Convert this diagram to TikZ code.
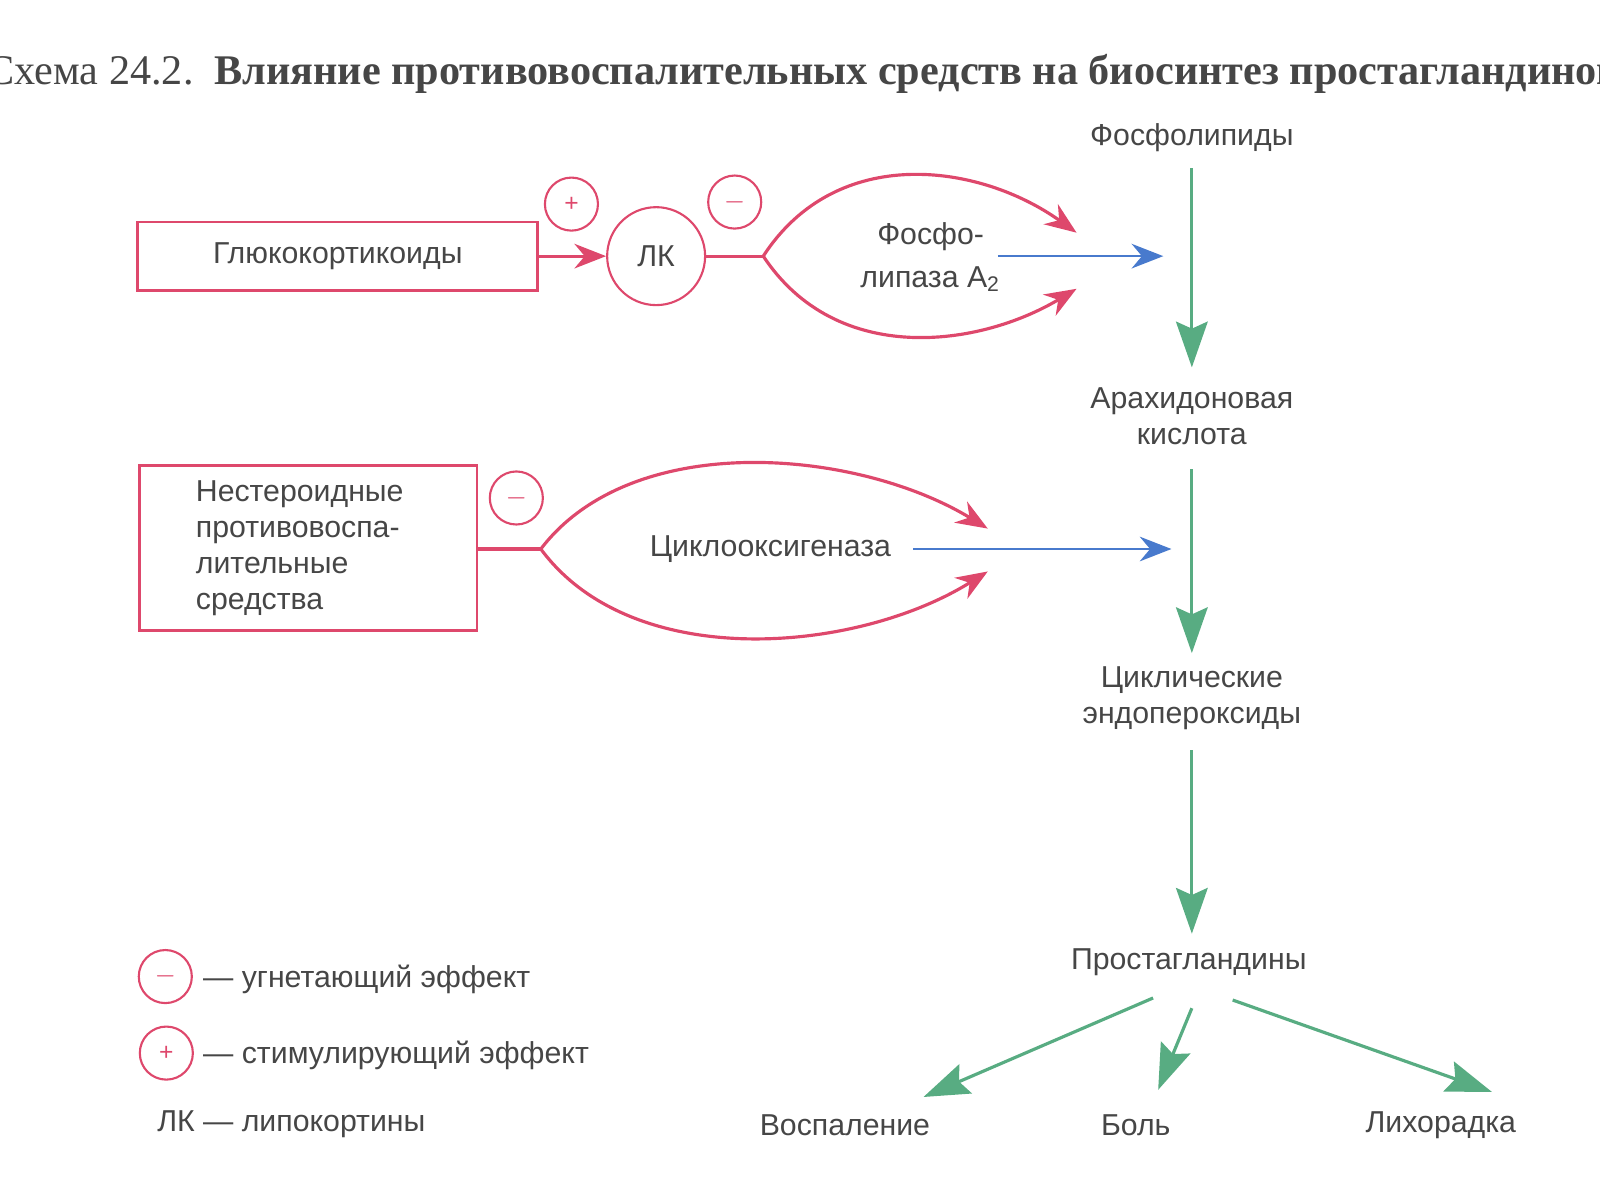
\documentclass[tikz,border=0pt]{standalone}
\usepackage{fontspec}
\setmainfont{Liberation Sans}
\newfontfamily\titlefont{Liberation Serif}
\usetikzlibrary{arrows.meta}
\definecolor{pinkc}{RGB}{222,72,108}
\definecolor{greenc}{RGB}{88,172,130}
\definecolor{bluec}{RGB}{72,122,205}
\definecolor{textc}{RGB}{70,70,70}

\begin{document}
\begin{tikzpicture}[x=0.0102cm,y=-0.0102cm,
    lbl/.style={text=textc, font=\fontsize{8.6}{10.2}\selectfont, align=center, inner sep=1pt},
    sign/.style={draw=pinkc, line width=0.6pt, circle, minimum size=52*0.0102cm, inner sep=0pt, text=pinkc, font=\scriptsize},
    garrow/.style={draw=greenc, line width=0.9pt, -{Stealth[length=13pt,width=9pt,inset=2pt]}},
    parrow/.style={draw=pinkc, line width=0.9pt, -{Stealth[length=9pt,width=7pt]}},
    barrow/.style={draw=bluec, line width=0.7pt, -{Stealth[length=9pt,width=7pt]}}]
    \useasboundingbox (0,0) rectangle (1568,1176);
    % Title
    \node[anchor=west, text=textc, font=\titlefont\fontsize{12}{14}\selectfont, inner sep=0pt] (title) at (-14,72)
        {Схема 24.2.\ \ \textbf{Влияние противовоспалительных средств на биосинтез простагландинов}};

    % Main chain
    \node[lbl] (phos) at (1168,135) {Фосфолипиды};
    \node[lbl] (arach) at (1168,408) {Арахидоновая\\кислота};
    \node[lbl] (endo) at (1168,684) {Циклические\\эндопероксиды};
    \node[lbl] (prost) at (1165,943) {Простагландины};
    \node[lbl] (infl) at (828,1103) {Воспаление};
    \node[lbl] (pain) at (1113,1103) {Боль};
    \node[lbl] (fever) at (1412,1103) {Лихорадка};
    \coordinate (p1) at (1168,165); \coordinate (p2) at (1168,360);
    \coordinate (a1) at (1168,460); \coordinate (a2) at (1168,640);
    \coordinate (e1) at (1168,735); \coordinate (e2) at (1168,915);
    \draw[garrow] (p1) -- (p2);
    \draw[garrow] (a1) -- (a2);
    \draw[garrow] (e1) -- (e2);
    \coordinate (s1) at (1130,978); \coordinate (s2) at (1168,988); \coordinate (s3) at (1208,980);
    \draw[garrow] (s1) -- (905,1075);
    \draw[garrow] (s2) -- (1135,1068);
    \draw[garrow] (s3) -- (1462,1070);

    % Glucocorticoids branch
    \node[draw=pinkc, line width=0.8pt, lbl, minimum width=392*0.0102cm, minimum height=67*0.0102cm] (gluco) at (331,251) {Глюкокортикоиды};
    \node[sign, minimum size=96*0.0102cm, text=textc, font=\fontsize{8.6}{10.2}\selectfont] (lk) at (643,251) {ЛК};
    \node[sign] (plus1) at (560,200) {+};
    \node[sign] (minus1) at (720,198) {$-$};
    \draw[parrow] (gluco) -- (lk);
    \coordinate (fork1) at (748,251);
    \draw[pinkc, line width=0.9pt] (lk) -- (fork1);
    \draw[parrow] (fork1) .. controls (820,140) and (960,160) .. (1055,228);
    \draw[parrow] (fork1) .. controls (820,360) and (960,340) .. (1055,283);
    \node[lbl, align=center] (pla) at (912,252) {Фосфо-\\[2pt]липаза A\textsubscript{2}};
    \coordinate (b1) at (978,251); \coordinate (b2) at (1140,251);
    \draw[barrow] (b1) -- (b2);

    % NSAID branch
    \node[draw=pinkc, line width=0.8pt, lbl, align=left, text width=220*0.0102cm, minimum width=331*0.0102cm, minimum height=161*0.0102cm] (nsaid) at (302,537)
        {Нестероидные\\противовоспа-\\лительные\\средства};
    \node[sign] (minus2) at (506,488) {$-$};
    \coordinate (fork2) at (530,538);
    \draw[pinkc, line width=0.9pt] (nsaid.east |- fork2) -- (fork2);
    \draw[parrow] (fork2) .. controls (620,420) and (840,440) .. (968,518);
    \draw[parrow] (fork2) .. controls (620,660) and (840,640) .. (968,560);
    \node[lbl] (cox) at (755,538) {Циклооксигеназа};
    \coordinate (c1) at (895,538); \coordinate (c2) at (1148,538);
    \draw[barrow] (c1) -- (c2);

    % Legend
    \node[sign] (lminus) at (162,957) {$-$};
    \node[lbl, anchor=west] (lminust) at (195,960) {— угнетающий эффект};
    \node[sign] (lplus) at (163,1032) {+};
    \node[lbl, anchor=west] (lplust) at (195,1034) {— стимулирующий эффект};
    \node[lbl, anchor=west] (llk) at (150,1102) {ЛК — липокортины};
\end{tikzpicture}
\end{document}
